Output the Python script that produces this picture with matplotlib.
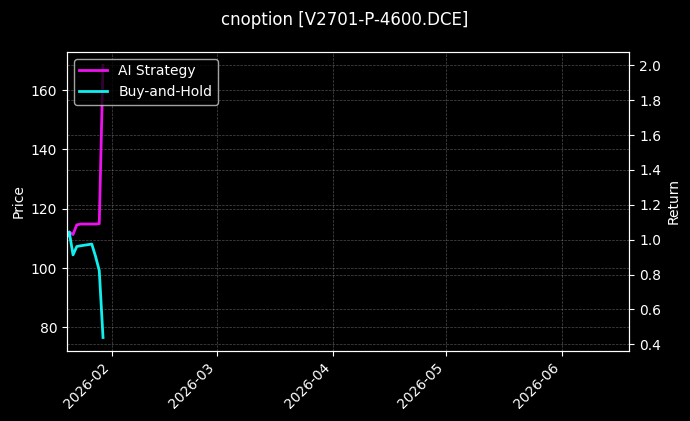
import matplotlib
matplotlib.use("Agg")
import matplotlib.pyplot as plt
import matplotlib.dates as mdates
import pandas as pd

# daily closes at 15:00
dates = pd.to_datetime([
    "2026-01-19 15:00", "2026-01-20 15:00", "2026-01-21 15:00", "2026-01-22 15:00",
    "2026-01-23 15:00", "2026-01-26 15:00", "2026-01-27 15:00", "2026-01-28 15:00",
    "2026-01-29 15:00",
])
ai_return = [1.0, 1.044, 1.03, 1.085, 1.09, 1.09, 1.09, 1.092, 2.0]
bh_return = [1.0, 1.044, 0.913, 0.961, 0.965, 0.975, 0.905, 0.823, 0.439]

x_start = pd.Timestamp("2026-01-20")
x_end = pd.Timestamp("2026-06-19")
price_lim = (72.0, 172.9)

plt.style.use("dark_background")
fig = plt.figure(figsize=(6.9, 4.21), dpi=100)
ax1 = fig.add_axes([0.097, 0.166, 0.815, 0.711])
ax2 = ax1.twinx()

ax1.set_ylim(*price_lim)
ax1.set_ylabel("Price")
ax1.grid(True, linestyle="--", linewidth=0.5, alpha=0.3)

l1, = ax2.plot(dates, ai_return, color="#ee11ee", linewidth=2, label="AI Strategy")
l2, = ax2.plot(dates, bh_return, color="#11eeee", linewidth=2, label="Buy-and-Hold")
ax2.set_ylabel("Return")
ax2.grid(True, linestyle="--", linewidth=0.5, alpha=0.3)

ax1.set_xlim(x_start, x_end)
ax1.xaxis.set_major_locator(mdates.MonthLocator())
ax1.xaxis.set_major_formatter(mdates.DateFormatter("%Y-%m"))
for lbl in ax1.get_xticklabels():
    lbl.set_rotation(45)
    lbl.set_ha("right")

ax2.legend(handles=[l1, l2], loc="upper left")
fig.suptitle("cnoption [V2701-P-4600.DCE]", fontsize=12, y=0.975)

fig.savefig("out.png", dpi=100)
